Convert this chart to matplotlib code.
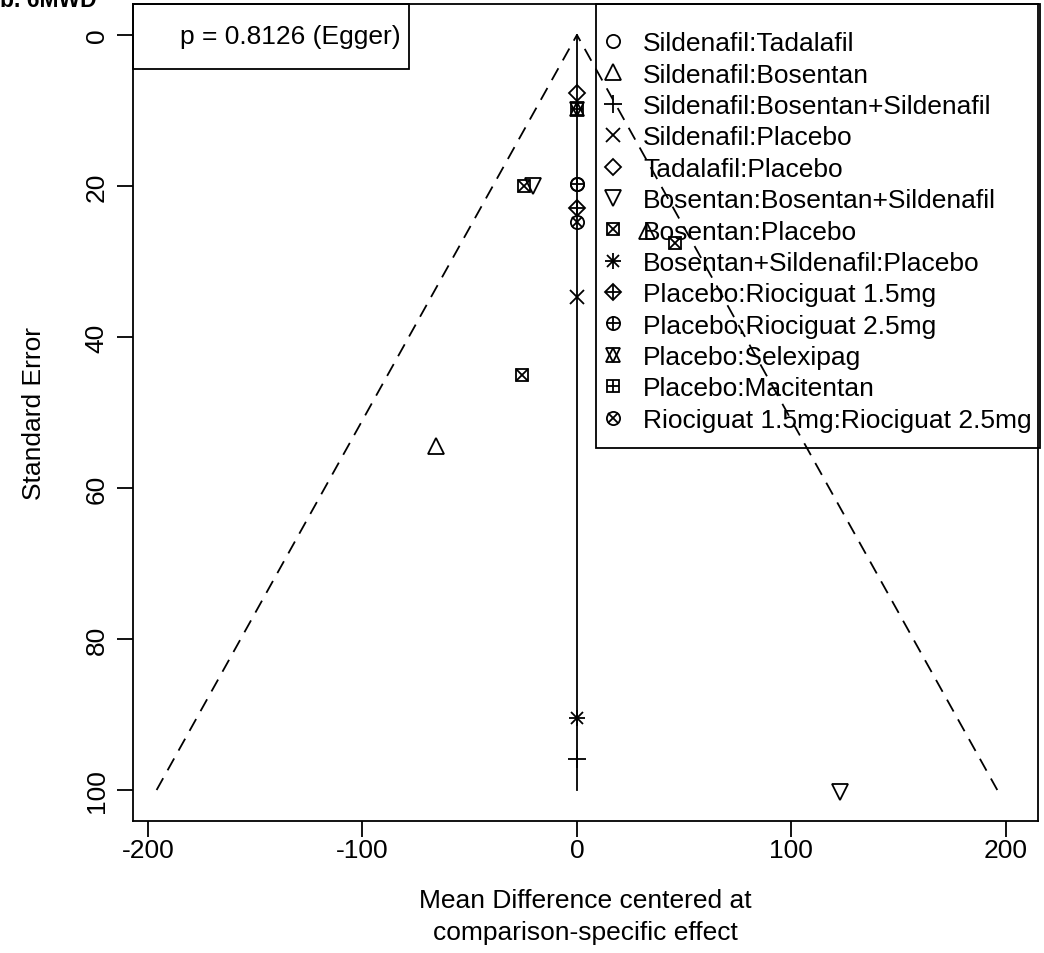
import matplotlib
matplotlib.use("Agg")
import matplotlib.pyplot as plt
from matplotlib.lines import Line2D
from matplotlib.patches import Rectangle

plt.rcParams['font.family'] = ['Liberation Sans', 'DejaVu Sans']
plt.rcParams['axes.unicode_minus'] = False

# comparison names, as in the legend
comparisons = [
    "Sildenafil:Tadalafil",
    "Sildenafil:Bosentan",
    "Sildenafil:Bosentan+Sildenafil",
    "Sildenafil:Placebo",
    "Tadalafil:Placebo",
    "Bosentan:Bosentan+Sildenafil",
    "Bosentan:Placebo",
    "Bosentan+Sildenafil:Placebo",
    "Placebo:Riociguat 1.5mg",
    "Placebo:Riociguat 2.5mg",
    "Placebo:Selexipag",
    "Placebo:Macitentan",
    "Riociguat 1.5mg:Riociguat 2.5mg",
]

# centered mean difference and standard error of each study, per comparison
md_centered = [
    [0.0],
    [-65.7, 32.6],
    [0.0],
    [0.0],
    [0.0],
    [-20.5, 122.6],
    [-24.7, -25.5, 45.8],
    [0.0],
    [0.0],
    [0.0],
    [0.0],
    [0.0],
    [0.0],
]
std_err = [
    [19.7],
    [54.4, 26.0],
    [95.9],
    [34.7],
    [7.7],
    [20.0, 100.3],
    [20.0, 45.0, 27.6],
    [90.5],
    [22.9],
    [19.7],
    [9.8],
    [9.8],
    [24.8],
]

egger_p = 0.8126
se_max = 100

# R pch 1..13 built from overlapping matplotlib markers
pch = [
    [("o", 9.5)],
    [("^", 11)],
    [("+", 13)],
    [("x", 10)],
    [("D", 8)],
    [("v", 11)],
    [("s", 8), ("x", 8)],
    [("+", 12), ("x", 9)],
    [("D", 8), ("+", 11.3)],
    [("o", 9.5), ("+", 9.5)],
    [("^", 10.5), ("v", 10.5)],
    [("s", 8), ("+", 8)],
    [("o", 9.5), ("x", 6.7)],
]

LW = 1.3

fig = plt.figure(figsize=(10.44, 9.54), dpi=100)
ax = fig.add_axes([0.1274, 0.1384, 0.8669, 0.8564])

# funnel and reference line
ax.plot([-1.96 * se_max, 0, 1.96 * se_max], [se_max, 0, se_max],
        color="black", lw=LW, ls=(0, (7.5, 5)))
ax.plot([0, 0], [0, se_max], color="black", lw=LW)

handles = []
for name, xs, ys, parts in zip(comparisons, md_centered, std_err, pch):
    hs = []
    for m, s in parts:
        ax.plot(xs, ys, ls="none", marker=m, ms=s, mfc="none",
                mec="black", mew=LW, zorder=6)
        hs.append(Line2D([], [], ls="none", marker=m, ms=s, mfc="none",
                         mec="black", mew=LW))
    handles.append(tuple(hs))

ax.set_xlim(-207, 215)
ax.set_ylim(104.1, -4.1)
ax.set_xticks([-200, -100, 0, 100, 200])
ax.set_yticks([0, 20, 40, 60, 80, 100])
ax.tick_params(labelsize=19, length=11.5, width=LW)
ax.tick_params(axis="x", pad=1)
ax.tick_params(axis="y", pad=6)
for lab in ax.get_yticklabels():
    lab.set_rotation(90)
    lab.set_va("center")
for sp in ax.spines.values():
    sp.set_linewidth(LW)

ax.set_xlabel("Mean Difference centered at\ncomparison-specific effect",
              fontsize=19, labelpad=18.5, linespacing=1.4)
ax.set_ylabel("Standard Error", fontsize=19, labelpad=28)

# legend without its own frame; the box is drawn separately
leg = ax.legend(handles, comparisons, loc="upper left",
                bbox_to_anchor=(593 / 1044, 1 - 19 / 954),
                bbox_transform=fig.transFigure, fontsize=19,
                frameon=False, borderpad=0, handlelength=0.5,
                handletextpad=0.9, labelspacing=0.28)
leg.set_zorder(3)
ax.add_patch(Rectangle((596 / 1044, 1 - 449 / 954), 444 / 1044, 444 / 954,
                       transform=fig.transFigure, fill=False, ec="black",
                       lw=LW, clip_on=False))

# Egger test box
ax.add_patch(Rectangle((0, 1 - 0.0796), 0.305, 0.0796,
                       transform=ax.transAxes, fill=False, ec="black",
                       lw=LW, clip_on=False))
ax.text(180 / 1044, 1 - 37 / 954, f"p = {egger_p} (Egger)",
        transform=fig.transFigure, ha="left", va="center", fontsize=19)

fig.text(0.0, 0.9927, "b. 6MWD", fontsize=16.5, fontweight="bold",
         ha="left", va="baseline")

fig.savefig("out.png", dpi=100)
